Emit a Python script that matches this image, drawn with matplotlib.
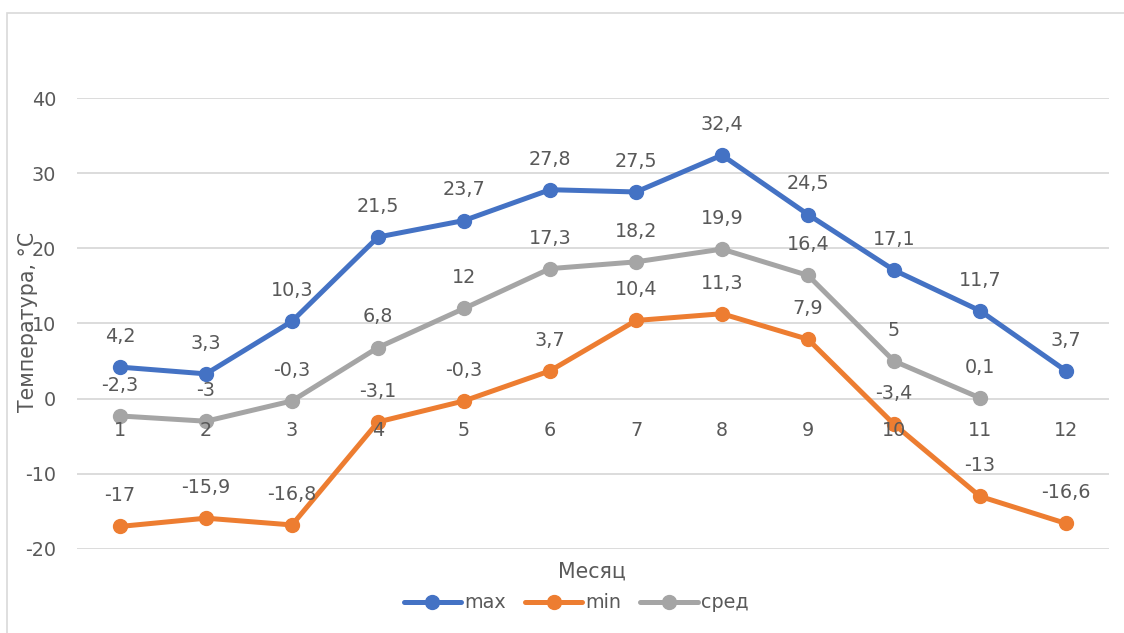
import matplotlib.pyplot as plt
from matplotlib.patches import Rectangle

months = list(range(1, 13))
t_max = [4.2, 3.3, 10.3, 21.5, 23.7, 27.8, 27.5, 32.4, 24.5, 17.1, 11.7, 3.7]
t_min = [-17, -15.9, -16.8, -3.1, -0.3, 3.7, 10.4, 11.3, 7.9, -3.4, -13, -16.6]
t_avg = [-2.3, -3, -0.3, 6.8, 12, 17.3, 18.2, 19.9, 16.4, 5, 0.1]

series = [("max", t_max, "#4472C4"), ("min", t_min, "#ED7D31"), ("сред", t_avg, "#A5A5A5")]
txt = "#595959"
fs = 13.8

plt.rcParams['font.family'] = ['DejaVu Sans']
plt.rcParams['axes.unicode_minus'] = False

fig = plt.figure(figsize=(11.24, 6.33), dpi=100)
# chart frame
fig.patches.append(Rectangle((7 / 1124, -0.1), 1.2, 1 - 13 / 633 + 0.1, transform=fig.transFigure,
                             fill=False, edgecolor="#D9D9D9", linewidth=1.2))

ax = fig.add_axes([77 / 1124, 1 - 549 / 633, 1032 / 1124, 451 / 633])
ax.set_xlim(0.5, 12.5)
ax.set_ylim(-20, 40)
ax.set_yticks(range(-20, 41, 10))
ax.grid(axis="y", color="#D9D9D9", linewidth=1.3)
ax.set_axisbelow(True)
for s in ax.spines.values():
    s.set_visible(False)
ax.tick_params(axis="y", length=0, labelsize=fs, labelcolor=txt, pad=15)
ax.set_xticks([])

for name, vals, col in series:
    xs = months[:len(vals)]
    ax.plot(xs, vals, color=col, linewidth=3.6, marker="o", markersize=10, label=name,
            solid_capstyle="round")
    for x, v in zip(xs, vals):
        ax.annotate(f"{v:g}".replace(".", ","), (x, v), xytext=(0, 22), textcoords="offset points",
                    ha="center", va="center", fontsize=fs, color=txt)

# category labels sit just under the zero line
for m in months:
    ax.text(m, -4.2, str(m), ha="center", va="center", fontsize=fs, color=txt)

fig.text(28 / 1124, 1 - 322 / 633, "Температура, °C", rotation=90, ha="center", va="center",
         fontsize=fs + 1, color=txt)
fig.text(592 / 1124, 1 - 572 / 633, "Месяц", ha="center", va="center", fontsize=fs + 1, color=txt)

leg = ax.legend(loc="center", bbox_to_anchor=(576 / 1124, 1 - 603 / 633), bbox_transform=fig.transFigure,
                ncol=3, frameon=False, fontsize=fs, handlelength=3.0, columnspacing=1.0,
                handletextpad=0.15)
for t in leg.get_texts():
    t.set_color(txt)

fig.savefig("out.png", dpi=100)
